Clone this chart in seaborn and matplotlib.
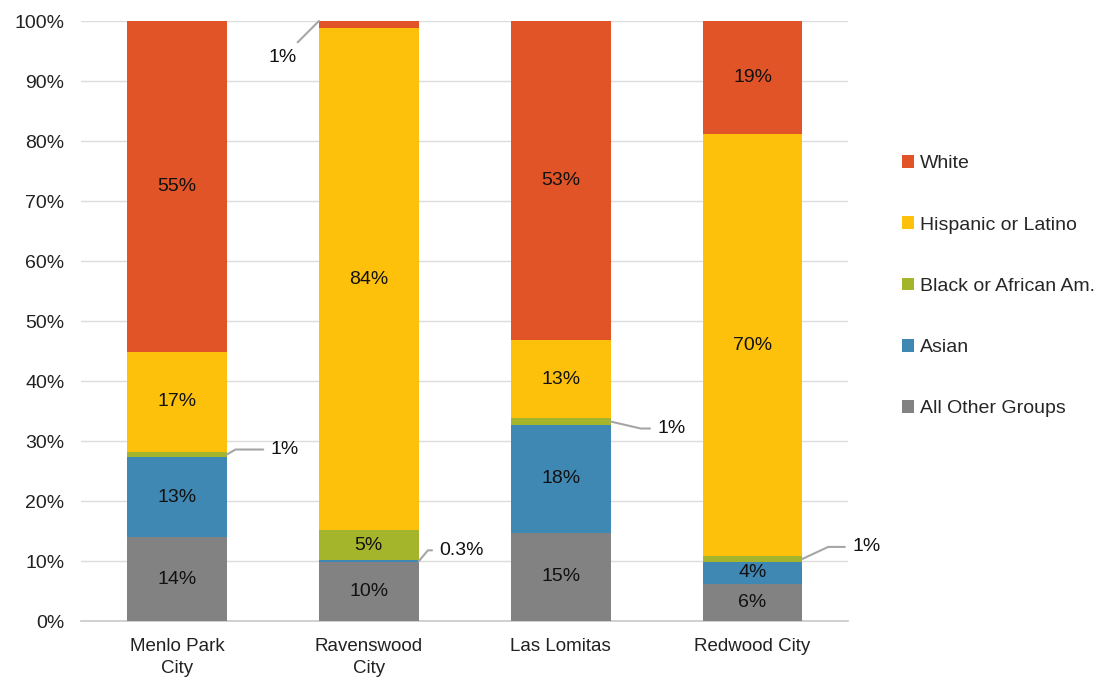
import matplotlib
matplotlib.use("Agg")
import matplotlib.pyplot as plt
import seaborn as sns
import numpy as np
import pandas as pd
from matplotlib.patches import Patch

cities = ["Menlo Park\nCity", "Ravenswood\nCity", "Las Lomitas", "Redwood City"]
groups = ["All Other Groups", "Asian", "Black or African Am.", "Hispanic or Latino", "White"]
other = [14.0, 9.8, 14.7, 6.2]
asian = [13.3, 0.3, 18.0, 3.7]
black = [0.9, 5.1, 1.1, 0.9]
hispanic = [16.7, 83.6, 13.0, 70.4]
white = [55.1, 1.2, 53.2, 18.8]
yticks = [0, 10, 20, 30, 40, 50, 60, 70, 80, 90, 100]

colors = {
    "All Other Groups": "#828282",
    "Asian": "#3F88B3",
    "Black or African Am.": "#A5B52B",
    "Hispanic or Latino": "#FDC10B",
    "White": "#E05427",
}

# leader-line label offsets (pixels) for small segments: (city index, group) -> (dx, dy, side, angle)
callouts = {
    (0, "Black or African Am."): (58, 5, "right", 30),
    (1, "White"): (-36, -36, "left", 0),
    (1, "Asian"): (43, 11, "right", 50),
    (2, "Black or African Am."): (61, -7, "right", -13),
    (3, "Black or African Am."): (64, 12, "right", 25),
}

series = [other, asian, black, hispanic, white]
vals = np.array(series)
cum = np.cumsum(vals, axis=0)
bottoms = cum - vals

sns.set_style("white")
plt.rcParams["font.family"] = ["Liberation Sans", "DejaVu Sans"]

fig = plt.figure(figsize=(11.13, 6.82), dpi=100)
ax = fig.add_axes([0.0728, 0.0894, 0.6895, 0.8798])

bw = 0.52
for gi in range(len(groups) - 1, -1, -1):
    df = pd.DataFrame({"city": cities, "val": cum[gi]})
    sns.barplot(data=df, x="city", y="val", order=cities, color=colors[groups[gi]],
                saturation=1, width=bw, errorbar=None, ax=ax, zorder=3, linewidth=0)


def fmt(v):
    return f"{v:.1f}%" if v < 0.5 else f"{int(round(v))}%"


LBL = 14
for gi, g in enumerate(groups):
    for ci in range(len(cities)):
        v = vals[gi, ci]
        mid = bottoms[gi, ci] + v / 2
        if (ci, g) in callouts:
            dx, dy, side, ang = callouts[(ci, g)]
            if side == "right":
                xy = (ci + bw / 2, mid)
                cs = f"angle,angleA=0,angleB={ang},rad=0"
            else:
                xy = (ci - bw / 2, cum[gi, ci])
                cs = "arc3,rad=0"
            ax.annotate(fmt(v), xy=xy, xytext=(dx, dy), textcoords="offset pixels",
                        ha="center", va="center", fontsize=LBL, color="#111111",
                        arrowprops=dict(arrowstyle="-", color="#A6A6A6", lw=1.5,
                                        connectionstyle=cs, shrinkA=3, shrinkB=0),
                        zorder=5, annotation_clip=False)
        else:
            ax.text(ci, mid, fmt(v), ha="center", va="center", fontsize=LBL,
                    color="#111111", zorder=5)

ax.set_xlim(-0.5, 3.5)
ax.set_ylim(0, 100)
ax.set_yticks(yticks)
ax.set_yticklabels([f"{t}%" for t in yticks], fontsize=14, color="#222222")
ax.set_xticks(range(len(cities)))
ax.set_xticklabels(cities, fontsize=13.5, color="#222222", linespacing=1.4)
ax.tick_params(axis="x", length=0, pad=12)
ax.tick_params(axis="y", length=0, pad=12)
ax.set_xlabel("")
ax.set_ylabel("")
ax.yaxis.grid(True, color="#DCDCDC", lw=1, zorder=0)
ax.set_axisbelow(True)
for s in ["left", "right", "top"]:
    ax.spines[s].set_visible(False)
ax.spines["bottom"].set_color("#C8C8C8")
ax.spines["bottom"].set_linewidth(1.2)

handles = [Patch(facecolor=colors[g], edgecolor="none", label=g) for g in reversed(groups)]
fig.legend(handles=handles, loc="upper left", bbox_to_anchor=(0.803, 0.784),
           frameon=False, fontsize=14, handlelength=0.62, handleheight=0.62,
           handletextpad=0.35, labelspacing=2.27, borderaxespad=0)

fig.savefig("out.png", dpi=100)
